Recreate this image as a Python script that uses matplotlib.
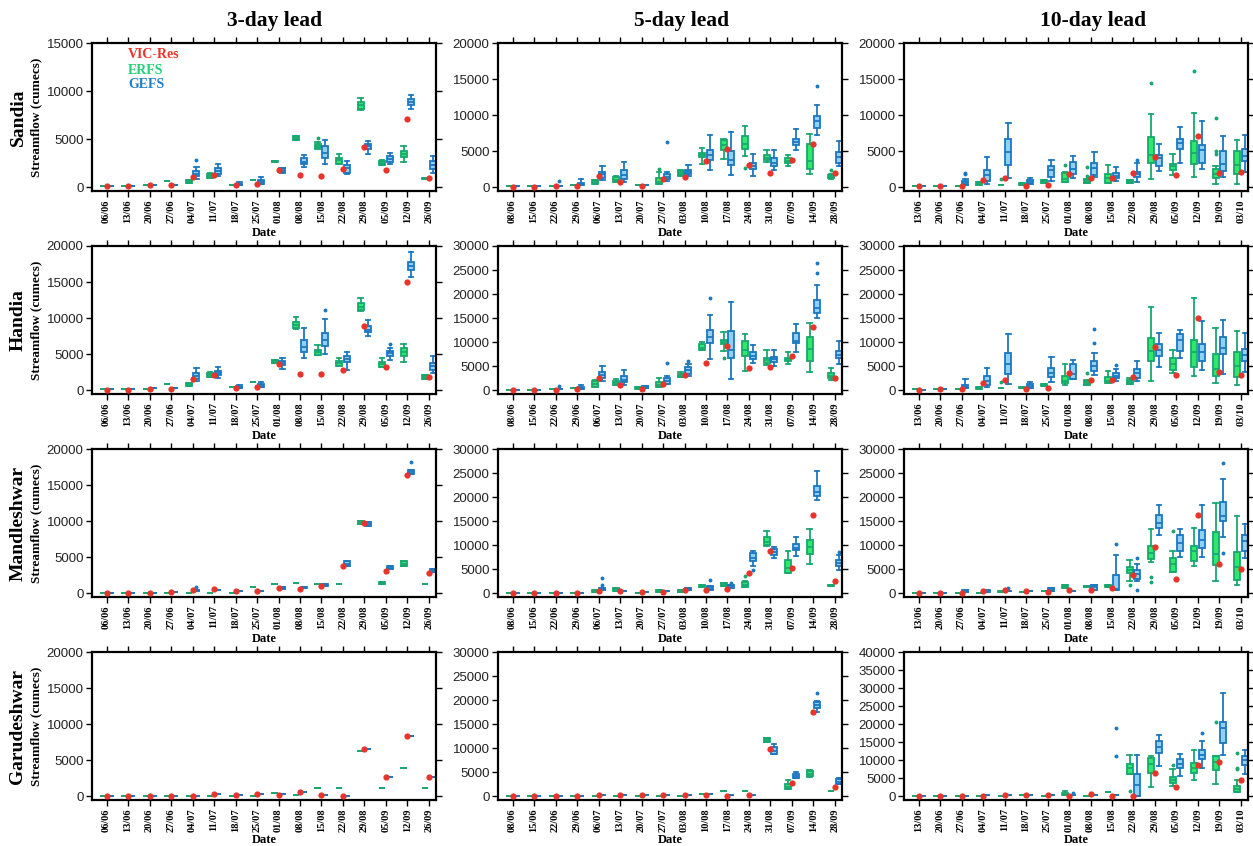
import numpy as np
import matplotlib
matplotlib.use("Agg")
import matplotlib.pyplot as plt

# ---- fechas (eje x) ----
dates_3 = ["06/06", "13/06", "20/06", "27/06", "04/07", "11/07", "18/07", "25/07",
           "01/08", "08/08", "15/08", "22/08", "29/08", "05/09", "12/09", "26/09"]
dates_5 = ["08/06", "15/06", "22/06", "29/06", "06/07", "13/07", "20/07", "27/07",
           "03/08", "10/08", "17/08", "24/08", "31/08", "07/09", "14/09", "28/09"]
dates_10 = ["13/06", "20/06", "27/06", "04/07", "11/07", "18/07", "25/07", "01/08",
            "08/08", "15/08", "22/08", "29/08", "05/09", "12/09", "19/09", "03/10"]

# boxes: (whisker low, q1, median, q3, whisker high) or a single value
# outliers: (date index starting at 1, value)

# ---- Sandia ----
sandia_3_obs = [100, 100, 200, 200, 1050, 1300, 200, 330, 1750, 1300, 1200, 1850, 4150, 1750, 7100, 900]
sandia_3_erfs = [150, 150, 200, 650, (400, 420, 550, 700, 750), (900, 940, 1150, 1390, 1500), 250, 780,
                 (2600, 2620, 2680, 2720, 2750), (4900, 4930, 5100, 5270, 5300), (4000, 4060, 4300, 4510, 4650),
                 (2360, 2430, 2800, 3050, 3470), (8050, 8160, 8550, 8850, 9300), (2300, 2330, 2500, 2700, 2800),
                 (2600, 3120, 3400, 3750, 4270), (800, 820, 850, 920, 950)]
sandia_3_erfs_out = [(11, 5140)]
sandia_3_gefs = [150, 150, 250, 250, (800, 1110, 1400, 1660, 2080), (1110, 1390, 1700, 2010, 2360),
                 (200, 250, 300, 350, 500), (300, 350, 500, 700, 1040), (1500, 1560, 1800, 2000, 2000),
                 (2080, 2360, 2650, 3020, 3300), (2360, 2980, 3500, 4270, 4930), (1350, 1490, 2000, 2330, 2740),
                 (3470, 3990, 4250, 4510, 4790), (2430, 2570, 2900, 3190, 3570), (8160, 8580, 8850, 9170, 9580),
                 (1500, 1900, 2300, 2700, 3200)]
sandia_3_gefs_out = [(5, 2780)]

sandia_5_obs = [50, 50, 100, 200, 1600, 650, 200, 1100, 1450, 3600, 5300, 3000, 1900, 3750, 6050, 1900]
sandia_5_erfs = [100, 100, 150, 300, (370, 370, 650, 920, 950), (690, 690, 1050, 1470, 1500), 300,
                 (370, 370, 700, 1240, 2070), (1520, 1650, 1900, 2200, 2440), (3270, 4190, 4450, 4740, 5380),
                 (3910, 5110, 5800, 6490, 6670), (4370, 5290, 6000, 7130, 8460), (3540, 3730, 4100, 4460, 5200),
                 (2900, 3360, 3600, 4050, 4420), (1840, 2530, 3600, 5980, 7360), (1100, 1200, 1450, 1660, 1800)]
sandia_5_erfs_out = [(8, 2530), (12, 2670), (16, 2350)]
sandia_5_gefs = [100, 100, 200, (230, 230, 400, 600, 1060), (920, 1290, 1800, 2120, 2900),
                 (690, 1150, 1700, 2350, 3450), 300, (830, 1060, 1400, 1840, 2120), (1520, 1750, 2050, 2350, 3040),
                 (2440, 3820, 4400, 5200, 7270), (1660, 3040, 3800, 4970, 7590), (1610, 2530, 2900, 3360, 4650),
                 (2440, 2990, 3400, 4050, 5200), (5110, 5890, 6300, 6720, 8050), (7270, 8190, 9200, 9800, 11360),
                 (2900, 3360, 4200, 4830, 6350)]
sandia_5_gefs_out = [(3, 870), (8, 6200), (15, 14100)]

sandia_10_obs = [100, 200, 200, 1000, 1300, 200, 300, 1750, 1300, 1200, 1900, 4150, 1700, 7100, 1900, 2050]
sandia_10_erfs = [150, 200, 200, (280, 280, 450, 690, 700), 300, (230, 230, 400, 600, 620),
                  (510, 510, 750, 1010, 1050), (690, 690, 1100, 1890, 2070), (600, 600, 800, 1060, 1100),
                  (550, 600, 1200, 1840, 3040), (510, 510, 700, 920, 950), (1150, 3360, 4500, 6950, 10120),
                  (1660, 2390, 2900, 3220, 4650), (1430, 3220, 4700, 6350, 10350), (460, 1290, 1800, 2530, 2900),
                  (460, 1840, 3000, 5060, 6580)]
sandia_10_erfs_out = [(5, 1060), (8, 3130), (9, 2800), (9, 1520), (12, 14490), (14, 16100),
                      (15, 9570), (15, 5060), (15, 4650)]
sandia_10_gefs = [100, 200, (320, 320, 550, 830, 1150), (460, 830, 1700, 2440, 4190), (1290, 3040, 4850, 6670, 8880),
                  (460, 460, 700, 920, 1290), (830, 1430, 2400, 2940, 3820), (1200, 1750, 2500, 3450, 4280),
                  (1430, 1660, 2700, 3360, 4830), (830, 1290, 1600, 1980, 2800), (690, 1380, 1800, 2120, 3360),
                  (2250, 2900, 4000, 4460, 6030), (3360, 5340, 6100, 6670, 8330), (2580, 3360, 5200, 5840, 9110),
                  (1430, 2300, 3200, 5060, 7040), (2070, 3590, 4300, 5290, 7270)]
sandia_10_gefs_out = [(3, 1980), (3, 1750), (11, 3820)]

# ---- Handia ----
handia_3_obs = [50, 50, 200, 200, 1500, 2100, 300, 500, 3600, 2200, 2200, 2800, 8900, 3200, 14950, 1750]
handia_3_erfs = [100, 100, 200, 800, (550, 550, 750, 1010, 1050), (1750, 1800, 2100, 2400, 2500), 400, 1150,
                 (3780, 3780, 3950, 4150, 4150), (8480, 8620, 9000, 9400, 10100), (4930, 4930, 5300, 5620, 6270),
                 (3320, 3320, 3700, 4100, 4430), (11020, 11160, 11600, 12080, 12720), (3230, 3230, 3600, 3920, 4470),
                 (3920, 4700, 5300, 5850, 6450), (1480, 1480, 1800, 2030, 2030)]
handia_3_erfs_out = []
handia_3_gefs = [100, 100, 250, 300, (1240, 1570, 2000, 2400, 3090), (1660, 2030, 2400, 2720, 3230),
                 (280, 280, 450, 550, 740), (460, 460, 650, 880, 1100), (2950, 3460, 3700, 4010, 4520),
                 (4470, 5260, 6000, 7010, 8620), (5020, 6090, 7000, 7930, 9910), (2860, 3920, 4300, 4700, 5260),
                 (7470, 8020, 8400, 8940, 9770), (4240, 4700, 5100, 5390, 5810), (15670, 16600, 17200, 17840, 19220),
                 (2400, 2860, 3300, 3780, 4700)]
handia_3_gefs_out = [(11, 11110), (14, 6400)]

handia_5_obs = [50, 50, 100, 300, 2500, 1000, 300, 1300, 3100, 5600, 9200, 4500, 4800, 7000, 13100, 2500]
handia_5_erfs = [100, 100, 150, 400, (620, 620, 1200, 1850, 2120), (1160, 1160, 1500, 1990, 2260),
                 (270, 270, 450, 690, 690), (750, 750, 1000, 1640, 2530), (2670, 2670, 3000, 3430, 3770),
                 (8360, 8360, 8800, 9520, 10070), (8220, 9520, 10000, 10480, 12120), (3900, 7190, 8400, 10210, 11780),
                 (5270, 5620, 6200, 6780, 8360), (5480, 5960, 6300, 6780, 7880), (3700, 6160, 8500, 11100, 13970),
                 (2190, 2530, 3000, 3560, 4590)]
handia_5_erfs_out = [(11, 6640)]
handia_5_gefs = [100, 100, 250, (140, 140, 450, 750, 1160), (1850, 2530, 3200, 3770, 5070),
                 (1160, 1640, 2200, 2950, 4180), (340, 340, 600, 890, 890), (1370, 1370, 1900, 2530, 2880),
                 (3010, 3360, 4200, 4730, 5410), (6510, 9800, 11000, 12540, 15550), (2260, 6780, 8400, 12260, 18430),
                 (5620, 6510, 7200, 8010, 9380), (4930, 5820, 6400, 6990, 8360), (8010, 9800, 10200, 11920, 13840),
                 (15070, 16100, 17100, 18770, 21850), (5480, 6780, 7400, 8150, 10210)]
handia_5_gefs_out = [(3, 820), (8, 5690), (9, 5960), (10, 19110), (15, 24320), (15, 26510)]

handia_10_obs = [100, 200, 200, 1500, 2100, 300, 500, 3600, 2200, 2200, 2800, 8900, 3200, 14950, 3700, 3200]
handia_10_erfs = [150, 200, 200, (270, 270, 500, 750, 750), 400, (340, 340, 550, 750, 750),
                  (890, 890, 1100, 1370, 1370), (1030, 1440, 1800, 3010, 5410), (1030, 1030, 1400, 1990, 2190),
                  (1510, 1510, 2000, 2810, 4040), (1370, 1370, 1700, 2190, 2530), (1990, 6100, 8100, 10890, 17260),
                  (3490, 4110, 5400, 6640, 8360), (2880, 4730, 8000, 10410, 19110), (1510, 2880, 4400, 7530, 12950),
                  (1030, 2740, 5000, 7880, 12260)]
handia_10_erfs_out = [(5, 1640), (9, 3490)]
handia_10_gefs = [100, 200, (480, 480, 800, 1160, 2330), (680, 1160, 2000, 2880, 4590),
                  (1370, 3430, 5400, 7670, 11580), (480, 480, 800, 1300, 1640), (1710, 2670, 3600, 4590, 6850),
                  (2330, 2400, 3400, 5410, 6300), (3080, 4040, 5100, 6160, 7670), (1990, 2470, 3000, 3560, 4450),
                  (1990, 2530, 3500, 4450, 5960), (4790, 7190, 8400, 9520, 11850), (6780, 8220, 10400, 11580, 12470),
                  (4110, 5960, 7900, 9660, 14320), (3430, 7600, 8800, 11100, 14520), (3700, 5960, 7300, 8490, 11990)]
handia_10_gefs_out = [(9, 9730), (9, 12810), (10, 5270)]

# ---- Mandleshwar ----
mandleshwar_3_obs = [50, 50, 50, 100, 400, 550, 350, 350, 700, 600, 1050, 3700, 9700, 3000, 16400, 2800]
mandleshwar_3_erfs = [50, 50, 50, 50, 50, 50, 50, 900, 1200, 1350, 1300, 1250,
                      (9660, 9660, 9850, 10030, 10030), (1250, 1250, 1350, 1520, 1520),
                      (3740, 3740, 4100, 4440, 4440), 1300]
mandleshwar_3_erfs_out = []
mandleshwar_3_gefs = [50, 50, 60, 100, (280, 280, 400, 500, 500), 500, 350, 300, (510, 510, 650, 790, 790),
                      (650, 650, 750, 850, 850), (1050, 1050, 1150, 1250, 1250), (3830, 3830, 4100, 4390, 4400),
                      (9380, 9380, 9600, 9840, 9840), (3280, 3280, 3500, 3740, 3740),
                      (16540, 16540, 16800, 17140, 17140), (2910, 2910, 3000, 3280, 3280)]
mandleshwar_3_gefs_out = [(5, 830), (15, 18200)]

mandleshwar_5_obs = [50, 50, 50, 50, 500, 400, 300, 300, 750, 750, 900, 4200, 8800, 5300, 16300, 2500]
mandleshwar_5_erfs = [50, 50, 50, 50, (140, 140, 300, 550, 550), (410, 410, 800, 1100, 1100), 50,
                      (270, 270, 450, 620, 620), (200, 200, 400, 620, 620), (1300, 1300, 1550, 1780, 1780),
                      (1580, 1580, 1800, 2060, 2060), (1300, 1300, 1700, 2260, 2470),
                      (9800, 10000, 10700, 11580, 12880), (4180, 4180, 5200, 6920, 8840),
                      (6030, 8080, 9500, 11030, 13430), (1500, 1500, 1600, 1780, 1780)]
mandleshwar_5_erfs_out = [(12, 3490)]
mandleshwar_5_gefs = [50, 50, 100, 100, (550, 550, 750, 960, 960), 400, 300, 350, (550, 550, 800, 1100, 1100),
                      (750, 750, 1100, 1580, 1580), (1100, 1100, 1400, 1780, 1780), (5690, 6710, 7300, 8290, 8840),
                      (7400, 7950, 8500, 9110, 9660), (7810, 8970, 9400, 10140, 11710),
                      (19450, 20140, 21000, 22330, 25410), (4860, 5550, 6200, 6920, 7950)]
mandleshwar_5_gefs_out = [(5, 1780), (5, 3150), (10, 2740), (11, 2120), (12, 4860), (16, 8630)]

mandleshwar_10_obs = [100, 100, 100, 400, 550, 350, 300, 700, 600, 1100, 3700, 9700, 3000, 16300, 6000, 5000]
mandleshwar_10_erfs = [100, 100, 100, 100, (140, 140, 250, 410, 410), 200, 350, (1100, 1100, 1500, 1780, 1780),
                       (1230, 1230, 1400, 1580, 1580), (1300, 1300, 1400, 1640, 1640), (2470, 4110, 4800, 5340, 6920),
                       (6580, 7120, 8400, 9800, 13430), (4320, 4320, 6000, 7400, 8770), (5550, 6780, 8800, 9800, 13560),
                       (2600, 5890, 8200, 12740, 18700), (1640, 2810, 5500, 8630, 16030)]
mandleshwar_10_erfs_out = [(11, 1640), (12, 3290), (12, 2260), (13, 12880)]
mandleshwar_10_gefs = [100, 100, (270, 270, 500, 750, 750), (200, 200, 400, 620, 620), 400, 350,
                       (410, 410, 700, 960, 960), 500, (550, 550, 1200, 1780, 1780), (550, 550, 800, 3840, 7950),
                       (2470, 2950, 4000, 4860, 6100), (12060, 13560, 14600, 16170, 18430),
                       (7600, 8770, 10500, 12060, 13430), (7600, 9320, 11000, 13080, 18360),
                       (11710, 14930, 16100, 19040, 23700), (7400, 8770, 10800, 12060, 14450)]
mandleshwar_10_gefs_out = [(5, 1100), (10, 10200), (11, 7400), (11, 750), (15, 26990), (15, 8430)]

# ---- Garudeshwar ----
garudeshwar_3_obs = [0, 0, 0, 0, 50, 300, 200, 250, 100, 600, 200, 50, 6600, 2600, 8400, 2600]
garudeshwar_3_erfs = [0, 0, 0, 0, 0, 0, 0, 50, 450, 200, 1100, 1100, 6200, 1100, 3900, 1100]
garudeshwar_3_erfs_out = []
garudeshwar_3_gefs = [0, 0, 0, 0, 50, 250, 200, 250, 350, 550, 200, 50, 6600, 2600, 8400, 2600]
garudeshwar_3_gefs_out = []

garudeshwar_5_obs = [0, 0, 0, 0, 150, 200, 150, 200, 150, 300, 50, 200, 9800, 2800, 17600, 2000]
garudeshwar_5_erfs = [0, 0, 0, 0, 0, 0, 0, 50, 100, 400, 1000, 1000, (11300, 11300, 11700, 12190, 12190),
                      (1510, 1510, 1900, 2530, 3430), (4040, 4250, 4700, 5270, 5480), 1100]
garudeshwar_5_erfs_out = []
garudeshwar_5_gefs = [0, 0, 0, 50, 250, 200, 200, 250, 200, 350, 200, 250, (8770, 8770, 9400, 10140, 10820),
                      (3770, 3770, 4200, 4660, 4930), (17600, 18290, 18900, 19520, 19870),
                      (2500, 2530, 3000, 3560, 3700)]
garudeshwar_5_gefs_out = [(15, 21440)]

garudeshwar_10_obs = [0, 0, 50, 50, 200, 200, 200, 50, 500, 50, 50, 6500, 2600, 8500, 9500, 4500]
garudeshwar_10_erfs = [0, 0, 50, 50, 100, 200, 100, (270, 270, 600, 910, 1460), 100, 1100,
                       (6030, 6210, 7800, 8950, 11500), (2650, 6390, 8800, 10590, 11230),
                       (2920, 3560, 4600, 5390, 7580), (4380, 6480, 7900, 9220, 12690),
                       (3290, 7120, 9500, 11050, 11230), (1190, 1190, 2000, 2920, 4380)]
garudeshwar_10_erfs_out = [(11, 1280), (13, 8770), (15, 20450), (16, 11960), (16, 7850), (16, 7400)]
garudeshwar_10_gefs = [0, 0, 100, 250, 250, 200, 350, 400, 300, 300, (0, 0, 3000, 6210, 11500),
                       (8310, 11960, 13700, 15160, 16980), (5570, 7850, 8800, 10410, 11690),
                       (7760, 10410, 11500, 12870, 15430), (11500, 14880, 19000, 20630, 28580),
                       (6210, 8580, 10000, 11050, 12870)]
garudeshwar_10_gefs_out = [(8, 1000), (10, 11230), (10, 18810), (14, 17440)]

stations = ["Sandia", "Handia", "Mandleshwar", "Garudeshwar"]
leads = ["3-day lead", "5-day lead", "10-day lead"]
lead_dates = [dates_3, dates_5, dates_10]
y_tops = [[15000, 20000, 20000], [20000, 30000, 30000], [20000, 30000, 30000], [20000, 30000, 40000]]

panels = [
    [(sandia_3_obs, sandia_3_erfs, sandia_3_erfs_out, sandia_3_gefs, sandia_3_gefs_out),
     (sandia_5_obs, sandia_5_erfs, sandia_5_erfs_out, sandia_5_gefs, sandia_5_gefs_out),
     (sandia_10_obs, sandia_10_erfs, sandia_10_erfs_out, sandia_10_gefs, sandia_10_gefs_out)],
    [(handia_3_obs, handia_3_erfs, handia_3_erfs_out, handia_3_gefs, handia_3_gefs_out),
     (handia_5_obs, handia_5_erfs, handia_5_erfs_out, handia_5_gefs, handia_5_gefs_out),
     (handia_10_obs, handia_10_erfs, handia_10_erfs_out, handia_10_gefs, handia_10_gefs_out)],
    [(mandleshwar_3_obs, mandleshwar_3_erfs, mandleshwar_3_erfs_out, mandleshwar_3_gefs, mandleshwar_3_gefs_out),
     (mandleshwar_5_obs, mandleshwar_5_erfs, mandleshwar_5_erfs_out, mandleshwar_5_gefs, mandleshwar_5_gefs_out),
     (mandleshwar_10_obs, mandleshwar_10_erfs, mandleshwar_10_erfs_out, mandleshwar_10_gefs, mandleshwar_10_gefs_out)],
    [(garudeshwar_3_obs, garudeshwar_3_erfs, garudeshwar_3_erfs_out, garudeshwar_3_gefs, garudeshwar_3_gefs_out),
     (garudeshwar_5_obs, garudeshwar_5_erfs, garudeshwar_5_erfs_out, garudeshwar_5_gefs, garudeshwar_5_gefs_out),
     (garudeshwar_10_obs, garudeshwar_10_erfs, garudeshwar_10_erfs_out, garudeshwar_10_gefs, garudeshwar_10_gefs_out)],
]

# ---- estilo ----
W, H = 1253, 846
SERIF = "Liberation Serif"
SANS = "Liberation Sans"
C_OBS = "#E8342A"
C_ERFS_FACE = "#2EE86C"
C_ERFS_EDGE = "#18A870"
C_GEFS_FACE = "#8FD0F3"
C_GEFS_EDGE = "#1B78C2"

col_left = [92, 498, 904]
row_top = [43, 246, 449, 652]
ax_w, ax_h = 344, 148


def stats_from(vals, outs):
    st = []
    for i, v in enumerate(vals):
        if np.isscalar(v):
            v = (v, v, v, v, v)
        lo, q1, med, q3, hi = v
        fl = [o for j, o in outs if j == i + 1]
        st.append(dict(whislo=lo, q1=q1, med=med, q3=q3, whishi=hi, fliers=fl))
    return st


def draw_boxes(ax, vals, outs, pos, face, edge):
    lw = 1.3
    ax.bxp(stats_from(vals, outs), positions=pos, widths=0.28, capwidths=0.2,
           patch_artist=True, manage_ticks=False, showfliers=True,
           boxprops=dict(facecolor=face, edgecolor=edge, linewidth=lw),
           medianprops=dict(color=edge, linewidth=lw),
           whiskerprops=dict(color=edge, linewidth=lw),
           capprops=dict(color=edge, linewidth=lw),
           flierprops=dict(marker="o", markersize=1.8, markerfacecolor=edge,
                           markeredgecolor=edge, linestyle="none"))


fig = plt.figure(figsize=(W / 100, H / 100), dpi=100)

for r, station in enumerate(stations):
    for c in range(3):
        obs, erfs, erfs_out, gefs, gefs_out = panels[r][c]
        top = y_tops[r][c]
        ax = fig.add_axes([col_left[c] / W, 1 - (row_top[r] + ax_h) / H, ax_w / W, ax_h / H])
        x = np.arange(1, len(obs) + 1)
        draw_boxes(ax, erfs, erfs_out, x - 0.18, C_ERFS_FACE, C_ERFS_EDGE)
        draw_boxes(ax, gefs, gefs_out, x + 0.18, C_GEFS_FACE, C_GEFS_EDGE)
        ax.plot(x, obs, "o", color=C_OBS, markersize=4.5, markeredgewidth=0, zorder=6)

        ax.set_xlim(0.32, 16.33)
        ax.set_ylim(-0.027 * top, top)
        ax.set_yticks(np.arange(0, top + 1, 5000))
        ax.set_yticklabels([str(int(v)) for v in np.arange(0, top + 1, 5000)],
                           fontfamily=SANS, fontsize=9.5, color="#222222")
        ax.set_xticks(x)
        ax.set_xticklabels(lead_dates[c], rotation=90, fontfamily=SERIF,
                           fontweight="bold", fontsize=7.5)
        ax.tick_params(direction="out", length=4, width=1, top=True, right=True,
                       labeltop=False, labelright=False, pad=2)
        for s in ax.spines.values():
            s.set_linewidth(1.6)

        # etiqueta "Date" (la ultima fila pegada al borde inferior)
        xc = (col_left[c] + ax_w / 2) / W
        if r < len(stations) - 1:
            fig.text(xc, 1 - (row_top[r] + ax_h + 42) / H, "Date", ha="center", va="center",
                     fontfamily=SERIF, fontweight="bold", fontsize=9)
        else:
            fig.text(xc, 0.5 / H, "Date", ha="center", va="bottom",
                     fontfamily=SERIF, fontweight="bold", fontsize=9)

    yc = 1 - (row_top[r] + ax_h / 2) / H
    fig.text(18 / W, yc, station, rotation=90, ha="center", va="center",
             fontfamily=SERIF, fontweight="bold", fontsize=14)
    fig.text(36 / W, yc, "Streamflow (cumecs)", rotation=90, ha="center", va="center",
             fontfamily=SERIF, fontweight="bold", fontsize=9.5)

title_x = [275, 682, 1093]
for c, t in enumerate(leads):
    fig.text(title_x[c] / W, 1 - 21 / H, t, ha="center", va="center",
             fontfamily=SERIF, fontweight="bold", fontsize=15.5)

# leyenda
for lab, col, yy in [("VIC-Res", C_OBS, 55), ("ERFS", "#22D077", 70), ("GEFS", "#1E7EC8", 85)]:
    fig.text(128 / W, 1 - yy / H, lab, color=col, ha="left", va="center",
             fontfamily=SERIF, fontweight="bold", fontsize=10)

fig.savefig("out.png", dpi=100)
